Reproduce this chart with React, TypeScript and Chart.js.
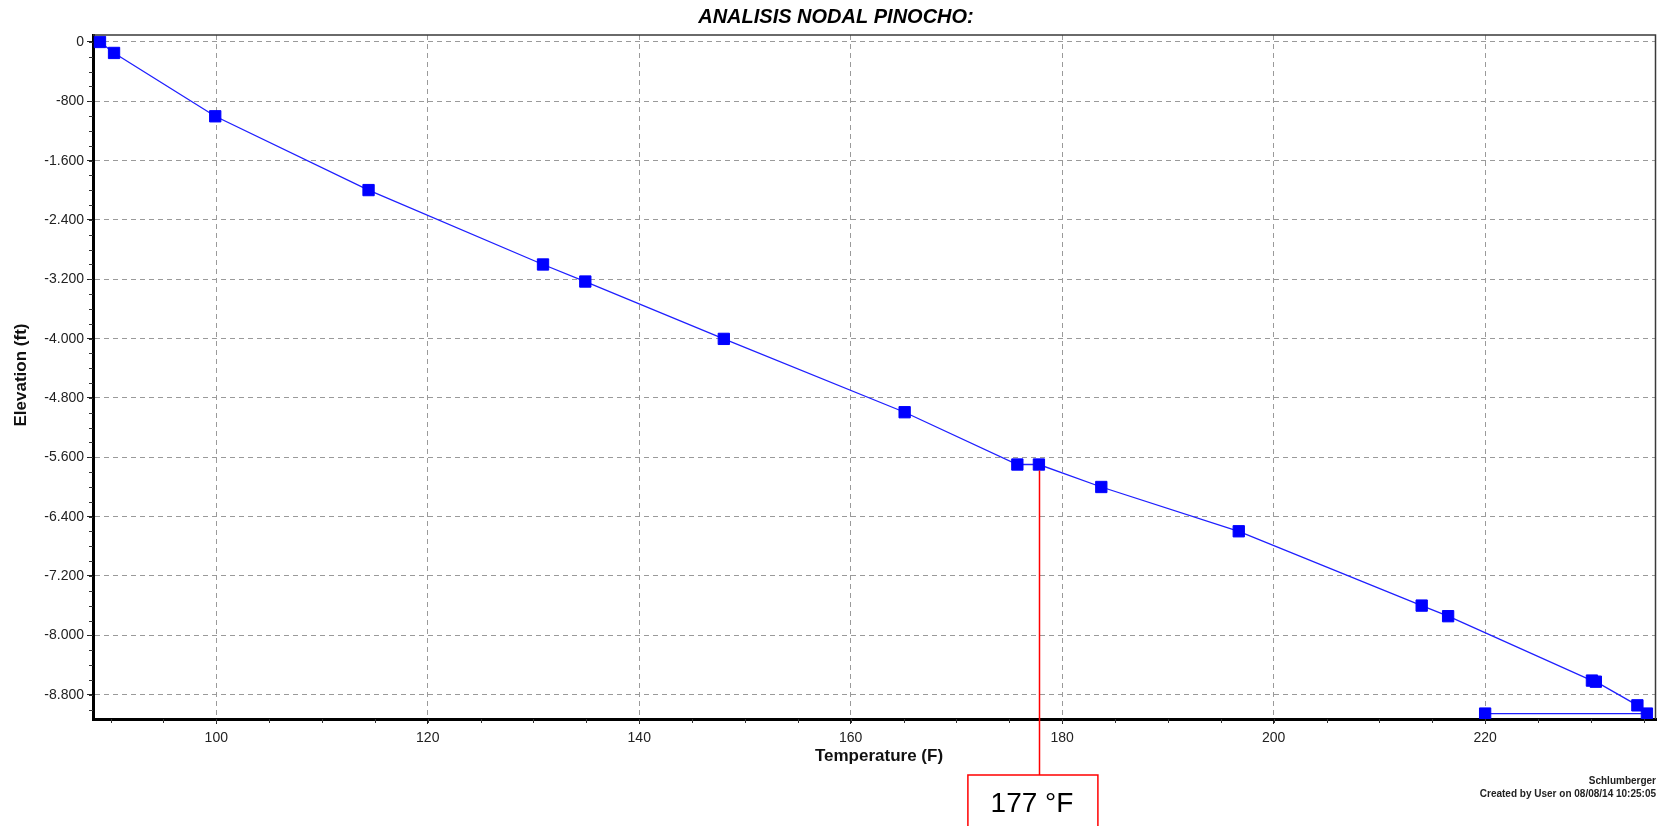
import React, { useEffect, useRef } from "react";
import { Chart, registerables } from "chart.js";

Chart.register(...registerables);

// ---- Data ----
const temperatures = [89.0, 90.33, 99.9, 114.4, 130.9, 134.9, 148.0, 165.1, 175.76, 177.8, 183.7, 196.7, 214.0, 216.5, 230.1, 230.47, 234.4, 235.3, 220.0];
const elevations = [0, -148, -1002, -1997, -3000, -3230, -4003, -4992, -5697, -5697, -6000, -6597, -7599, -7742, -8610, -8625, -8944, -9055, -9055];

const xTicks = [100, 120, 140, 160, 180, 200, 220];
const yTicks = [0, -800, -1600, -2400, -3200, -4000, -4800, -5600, -6400, -7200, -8000, -8800];
const xMinorStep = 5;
const yMinorStep = 200;
const xRange = [88.34, 236.16];
const yRange = [-9128, 94];

const titleText = "ANALISIS NODAL PINOCHO:";
const xTitle = "Temperature (F)";
const yTitle = "Elevation (ft)";
const footerLines = ["Schlumberger", "Created by User on 08/08/14 10:25:05"];
const annotationTemp = 177.8;
const annotationElev = -5697;
const annotationLabel = "177 °F";

const FONT = "'Liberation Sans', Arial, sans-serif";

const fmtThousands = (v: number) => {
  const s = Math.abs(Math.round(v)).toString().replace(/\B(?=(\d{3})+(?!\d))/g, ".");
  return (v < 0 ? "-" : "") + s;
};

const decorPlugin = {
  id: "decor",
  afterDraw(chart: any) {
    const { ctx, chartArea } = chart;
    const xs = chart.scales.x;
    const ys = chart.scales.y;
    const { left, right, top, bottom } = chartArea;
    ctx.save();

    // top & right frame
    ctx.strokeStyle = "#3a3a3a";
    ctx.lineWidth = 1.5;
    ctx.setLineDash([]);
    ctx.beginPath();
    ctx.moveTo(left, top);
    ctx.lineTo(right - 0.5, top);
    ctx.lineTo(right - 0.5, bottom);
    ctx.stroke();

    // minor ticks
    ctx.strokeStyle = "#333";
    ctx.lineWidth = 1;
    ctx.beginPath();
    for (let v = Math.ceil(xRange[0] / xMinorStep) * xMinorStep; v <= xRange[1]; v += xMinorStep) {
      const px = Math.round(xs.getPixelForValue(v)) + 0.5;
      ctx.moveTo(px, bottom);
      ctx.lineTo(px, bottom + 4);
    }
    for (let v = Math.ceil(yRange[0] / yMinorStep) * yMinorStep; v <= yRange[1]; v += yMinorStep) {
      const py = Math.round(ys.getPixelForValue(v)) + 0.5;
      ctx.moveTo(left, py);
      ctx.lineTo(left - 4, py);
    }
    ctx.stroke();

    // title
    ctx.fillStyle = "#000";
    ctx.font = `italic bold 20px ${FONT}`;
    ctx.textAlign = "center";
    ctx.textBaseline = "middle";
    ctx.fillText(titleText, 836, 17);

    // axis titles
    ctx.font = `bold 17px ${FONT}`;
    ctx.fillStyle = "#111";
    ctx.fillText(xTitle, 879, 756);
    ctx.save();
    ctx.translate(21, 375);
    ctx.rotate(-Math.PI / 2);
    ctx.fillText(yTitle, 0, 0);
    ctx.restore();

    // footer
    ctx.font = `bold 10px ${FONT}`;
    ctx.textAlign = "right";
    ctx.fillStyle = "#222";
    ctx.fillText(footerLines[0], 1656, 781);
    ctx.fillText(footerLines[1], 1656, 794);

    // annotation
    const ax = Math.round(xs.getPixelForValue(annotationTemp)) + 0.5;
    const ay = ys.getPixelForValue(annotationElev) + 6;
    const boxTop = 775;
    ctx.strokeStyle = "#ff0000";
    ctx.lineWidth = 1.5;
    ctx.beginPath();
    ctx.moveTo(ax, ay);
    ctx.lineTo(ax, boxTop);
    ctx.stroke();
    ctx.strokeRect(ax - 71.6, boxTop, 130, 60);
    ctx.fillStyle = "#000";
    ctx.font = `28px ${FONT}`;
    ctx.textAlign = "center";
    ctx.textBaseline = "alphabetic";
    ctx.fillText(annotationLabel, ax - 7.5, 812);

    ctx.restore();
  },
};

export default function App() {
  const canvasRef = useRef<HTMLCanvasElement | null>(null);

  useEffect(() => {
    const prevMargin = document.body.style.margin;
    document.body.style.margin = "0";
    const canvas = canvasRef.current;
    if (!canvas) return;
    const data = temperatures.map((t, i) => ({ x: t, y: elevations[i] }));
    const tickFont = { family: FONT, size: 14 };
    const chart = new Chart(canvas, {
      type: "scatter",
      data: {
        datasets: [
          {
            data,
            showLine: true,
            borderColor: "#1f1fff",
            borderWidth: 1.3,
            pointStyle: "rect",
            pointRadius: 8,
            pointHoverRadius: 8,
            pointBackgroundColor: "#0000ff",
            pointBorderColor: "#0000ff",
            pointBorderWidth: 1,
          },
        ],
      },
      options: {
        animation: false,
        responsive: false,
        events: [],
        layout: { padding: { top: 35, right: 1, left: 0, bottom: 0 } },
        plugins: {
          legend: { display: false },
          title: { display: false },
          tooltip: { enabled: false },
        },
        scales: {
          x: {
            type: "linear",
            min: xRange[0],
            max: xRange[1],
            afterBuildTicks: (s: any) => {
              s.ticks = xTicks.map((v) => ({ value: v }));
            },
            afterFit: (s: any) => {
              s.height = 107;
            },
            grid: {
              color: "#9a9a9a",
              lineWidth: 1,
              tickLength: 5,
              tickColor: "#222",
              tickWidth: 1,
              tickBorderDash: [],
            },
            border: { display: true, color: "#000", width: 3, dash: [5, 4] },
            ticks: {
              color: "#222",
              font: tickFont,
              padding: 6,
              maxRotation: 0,
              callback: (v: any) => String(v),
            },
          },
          y: {
            type: "linear",
            min: yRange[0],
            max: yRange[1],
            afterBuildTicks: (s: any) => {
              s.ticks = yTicks.map((v) => ({ value: v }));
            },
            afterFit: (s: any) => {
              s.width = 93;
            },
            grid: {
              color: "#9a9a9a",
              lineWidth: 1,
              tickLength: 6,
              tickColor: "#222",
              tickWidth: 1,
              tickBorderDash: [],
            },
            border: { display: true, color: "#000", width: 3, dash: [5, 4] },
            ticks: {
              color: "#222",
              font: tickFont,
              padding: 3,
              callback: (v: any) => fmtThousands(Number(v)),
            },
          },
        },
      },
      plugins: [decorPlugin],
    } as any);
    return () => {
      chart.destroy();
      document.body.style.margin = prevMargin;
    };
  }, []);

  return (
    <div style={{ position: "fixed", left: 0, top: 0, width: 1665, height: 826, background: "#fff" }}>
      <canvas ref={canvasRef} width={1665} height={826} style={{ display: "block" }} />
    </div>
  );
}
